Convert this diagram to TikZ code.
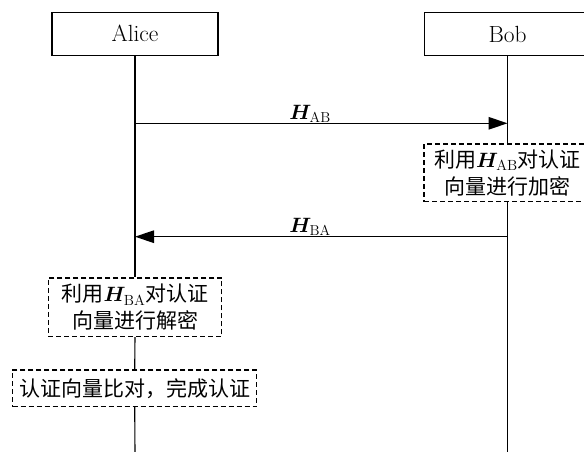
\documentclass[tikz,border=0pt]{standalone}
\usepackage{fontspec}
\usepackage{bm}
\usetikzlibrary{arrows.meta}
\newfontfamily\cjk{Noto Sans CJK SC}
\begin{document}
\begin{tikzpicture}[x=1pt,y=-1pt,
  actor/.style={draw, line width=1.1pt, minimum width=166pt, minimum height=43pt, inner sep=0pt, font=\fontsize{23.4}{28}\selectfont},
  proc/.style={draw, dash pattern=on 5pt off 3pt, line width=1.1pt, inner sep=0pt, align=center, font=\cjk\fontsize{21}{26.7}\selectfont},
  life/.style={line width=1.1pt},
  msg/.style={line width=1.4pt, -{Triangle[length=19pt,width=12.5pt]}},
  lbl/.style={font=\fontsize{20.74}{24}\selectfont, inner sep=0pt, anchor=base, yshift=4pt}]
\useasboundingbox (0,0) rectangle (584,452);
\clip (0,0) rectangle (584,452);
\node[actor] (alice) at (135,33.8) {Alice};
\node[actor] (bob) at (507.5,34) {Bob};
\node[proc, minimum width=167pt, minimum height=57.7pt] (enc) at (507.5,172.8) {利用$\bm{H}_{\mathrm{AB}}$对认证\\向量进行加密};
\node[proc, minimum width=173.7pt, minimum height=58.7pt] (dec) at (135,307.3) {利用$\bm{H}_{\mathrm{BA}}$对认证\\向量进行解密};
\node[proc, minimum width=244pt, minimum height=36.7pt] (cmp) at (134.7,388.3) {认证向量比对，完成认证};
\coordinate (a1) at (135,123.3);
\coordinate (b1) at (507.5,123.3);
\coordinate (a2) at (135,236.7);
\coordinate (b2) at (507.5,236.7);
\coordinate (aend) at (135,452);
\coordinate (bend) at (507.5,452);
\draw[life] (alice.south) -- (dec.north);
\draw[life] (dec.south) -- (cmp.north);
\draw[life] (cmp.south) -- (aend);
\draw[life] (bob.south) -- (enc.north);
\draw[life] (enc.south) -- (bend);
\draw[msg] (a1) -- (b1) node[lbl, pos=0.47] {$\bm{H}_{\mathrm{AB}}$};
\draw[msg] (b2) -- (a2) node[lbl, pos=0.53] {$\bm{H}_{\mathrm{BA}}$};
\end{tikzpicture}
\end{document}
